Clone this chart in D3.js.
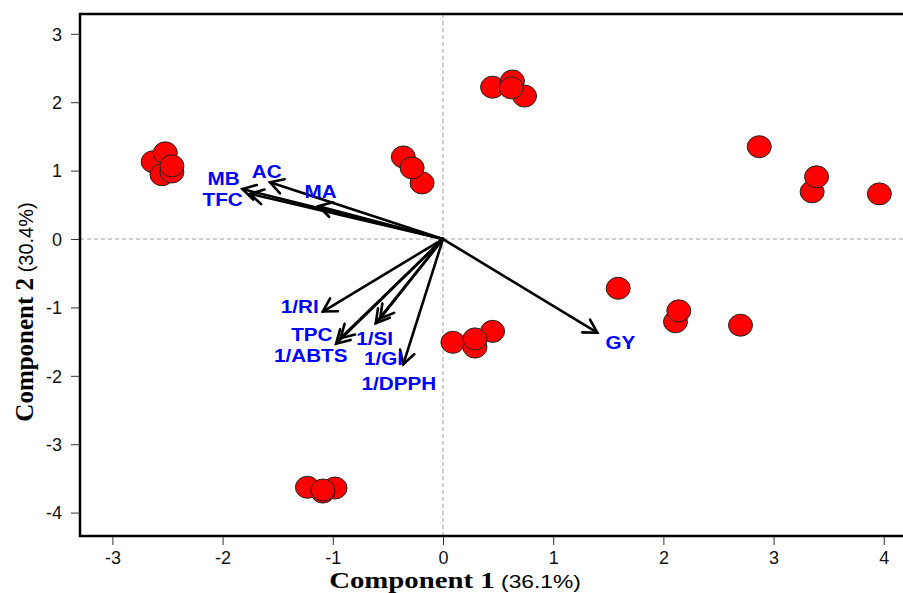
<!DOCTYPE html>
<html><head><meta charset="utf-8">
<script src="https://cdn.jsdelivr.net/npm/d3@7"></script>
<style>body{margin:0;background:#fff}</style>
</head><body>
<script>
// Scores (individuals)
const pc1 = [-2.63,-2.52,-2.55,-2.46,-2.46, -0.36,-0.19,-0.28, 0.45,0.63,0.74,0.62, 2.87,3.35,3.39,3.96, 1.59,2.11,2.14,2.70, 0.09,0.45,0.29,0.29, -1.23,-0.98,-1.09,-1.09];
const pc2 = [1.13,1.26,0.94,0.98,1.07, 1.20,0.82,1.04, 2.22,2.31,2.09,2.21, 1.35,0.69,0.91,0.66, -0.72,-1.21,-1.05,-1.26, -1.51,-1.35,-1.58,-1.46, -3.63,-3.64,-3.70,-3.67];
// Variable loadings (arrow tips)
const varNames = ["MB","TFC","AC","MA","1/RI","TPC","1/ABTS","1/SI","1/GI","1/DPPH","GY"];
const varX = [-1.82,-1.75,-1.57,-1.13,-1.09,-0.97,-0.93,-0.61,-0.57,-0.36,1.40];
const varY = [0.73,0.66,0.83,0.48,-1.06,-1.53,-1.45,-1.23,-1.16,-1.83,-1.37];
// label anchor positions (data units)
const labX = [-1.99,-2.00,-1.60,-1.11,-1.30,-1.19,-1.20,-0.62,-0.54,-0.40,1.61];
const labY = [0.88,0.58,0.98,0.69,-0.99,-1.40,-1.70,-1.45,-1.74,-2.11,-1.52];
const xTicks = [-3,-2,-1,0,1,2,3,4];
const yTicks = [-4,-3,-2,-1,0,1,2,3];
const xTitle = ["Component 1", " (36.1%)"];
const yTitle = ["Component 2", " (30.4%)"];

const W = 903, H = 593;
const svg = d3.select("body").append("svg").attr("width", W).attr("height", H);
const x = d3.scaleLinear().domain([-3.294, 4.238]).range([80, 910]);
const y = d3.scaleLinear().domain([-4.342, 3.29]).range([536, 14]);

// reference lines
svg.append("line").attr("x1", x(0)).attr("x2", x(0)).attr("y1", y(3.29)).attr("y2", y(-4.342))
  .attr("stroke", "#a0a0a0").attr("stroke-width", 1).attr("stroke-dasharray", "4,3");
svg.append("line").attr("x1", x(-3.294)).attr("x2", x(4.238)).attr("y1", y(0)).attr("y2", y(0))
  .attr("stroke", "#a0a0a0").attr("stroke-width", 1).attr("stroke-dasharray", "4,3");

// points
const pts = d3.range(pc1.length);
svg.append("g").selectAll("ellipse").data(pts).join("ellipse")
  .attr("cx", i => x(pc1[i])).attr("cy", i => y(pc2[i]))
  .attr("rx", 12).attr("ry", 11)
  .attr("fill", "#ff0000").attr("stroke", "#222").attr("stroke-width", 1);

// arrows
const ag = svg.append("g").attr("stroke", "#000").attr("stroke-width", 2.6).attr("fill", "none").attr("stroke-linecap", "round");
varNames.forEach((n, i) => {
  const x0 = x(0), y0 = y(0), x1 = x(varX[i]), y1 = y(varY[i]);
  ag.append("line").attr("x1", x0).attr("y1", y0).attr("x2", x1).attr("y2", y1);
  const ang = Math.atan2(y1 - y0, x1 - x0), L = 15, a = Math.PI / 6;
  const p = d3.path();
  p.moveTo(x1 - L * Math.cos(ang - a), y1 - L * Math.sin(ang - a));
  p.lineTo(x1, y1);
  p.lineTo(x1 - L * Math.cos(ang + a), y1 - L * Math.sin(ang + a));
  ag.append("path").attr("d", p.toString());
});

// variable labels
varNames.forEach((n, i) => {
  svg.append("text")
    .attr("transform", `translate(${x(labX[i])},${y(labY[i])}) scale(1.15,1)`)
    .attr("text-anchor", "middle").attr("dominant-baseline", "central")
    .attr("font-family", "Liberation Sans, Arial, sans-serif").attr("font-weight", "bold")
    .attr("font-size", 18).attr("fill", "#0000ff").text(n);
});

// box
svg.append("rect").attr("x", 80).attr("y", 14).attr("width", 830).attr("height", 522)
  .attr("fill", "none").attr("stroke", "#000").attr("stroke-width", 2.5);

// axes
const fmt = d => String(d);
const xa = svg.append("g").attr("transform", "translate(0,537)")
  .call(d3.axisBottom(x).tickValues(xTicks).tickSize(8).tickPadding(6).tickFormat(fmt));
const ya = svg.append("g").attr("transform", "translate(79,0)")
  .call(d3.axisLeft(y).tickValues(yTicks).tickSize(8).tickPadding(9).tickFormat(fmt));
[xa, ya].forEach(g => {
  g.select(".domain").remove();
  g.selectAll("text").attr("font-family", "Liberation Sans, Arial, sans-serif").attr("font-size", 18).attr("fill", "#111");
  g.selectAll("line").attr("stroke", "#333");
});
ya.selectAll("text").attr("dy", "0.35em");

// axis titles
const xt = svg.append("text").attr("transform", "translate(455,588) scale(1.2,1)").attr("text-anchor", "middle");
xt.append("tspan").attr("font-family", "Liberation Serif, Times New Roman, serif").attr("font-weight", "bold").attr("font-size", 24).text(xTitle[0]);
xt.append("tspan").attr("font-family", "Liberation Sans, Arial, sans-serif").attr("font-size", 19).text(xTitle[1]);
const yt = svg.append("text").attr("transform", "translate(33,312) rotate(-90)").attr("text-anchor", "middle");
yt.append("tspan").attr("font-family", "Liberation Serif, Times New Roman, serif").attr("font-weight", "bold").attr("font-size", 25).text(yTitle[0]);
yt.append("tspan").attr("font-family", "Liberation Sans, Arial, sans-serif").attr("font-size", 20).text(yTitle[1]);
</script>
</body></html>
